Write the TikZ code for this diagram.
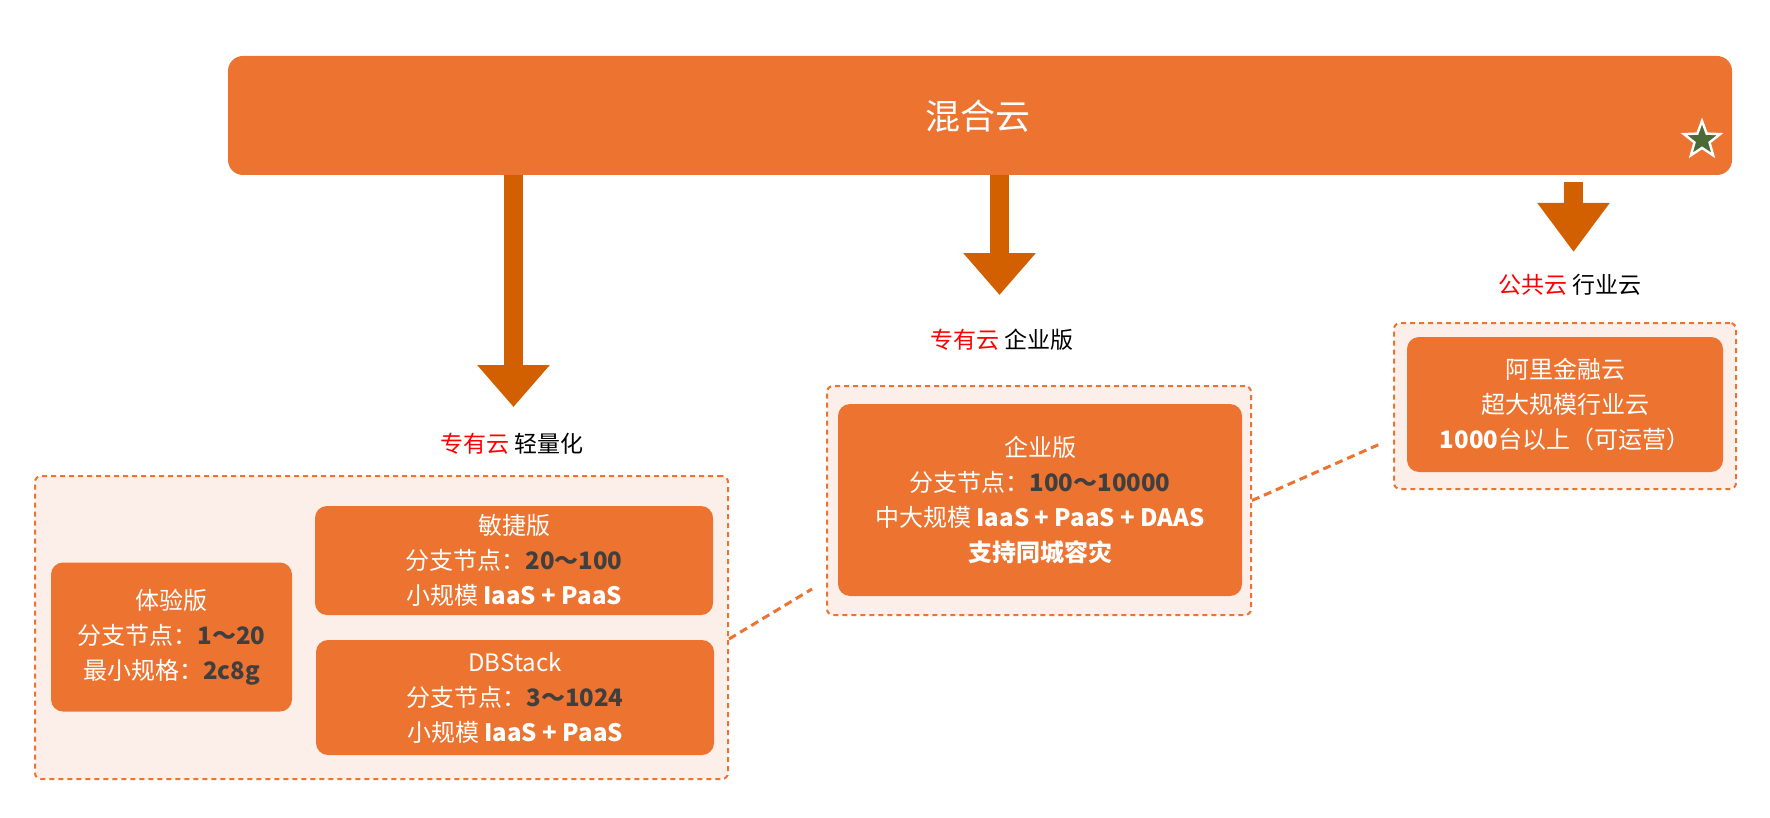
\documentclass[tikz,border=0pt]{standalone}
\usepackage{fontspec}
\setmainfont{Noto Sans CJK SC}
\usetikzlibrary{arrows.meta,shapes.geometric}
\definecolor{org}{HTML}{ED7330}
\definecolor{darr}{HTML}{D25F00}
\definecolor{pale}{HTML}{FCEFE9}
\definecolor{num}{HTML}{3F3F3F}
\definecolor{stargreen}{HTML}{4A6B35}
\newcommand{\nm}[1]{\textbf{\textcolor{num}{#1}}}
\begin{document}
\begin{tikzpicture}[x=0.5pt,y=-0.5pt,
  banner/.style={fill=org, rounded corners=7.5pt, text=white, inner sep=0pt,
    font=\fontsize{17.5}{20}\selectfont},
  box/.style={fill=org, rounded corners=6pt, text=white, inner sep=0pt, align=center,
    font=\fontsize{12}{17.5}\selectfont},
  container/.style={fill=pale, draw=org, line width=1pt, dash pattern=on 2.5pt off 2pt,
    rounded corners=3pt, inner sep=0pt},
  lbl/.style={font=\fontsize{11.5}{14}\selectfont, inner sep=0pt},
  bigarrow/.style={draw=darr, line width=9.5pt},
  conn/.style={draw=org, line width=1.5pt, dash pattern=on 4pt off 2.5pt}
]
\useasboundingbox (0,0) rectangle (1770,818);

% banner
\node[banner, minimum width=752pt, minimum height=59.5pt] (banner) at (980,115.5) {};
\node[text=white, font=\fontsize{17.5}{20}\selectfont, inner sep=0pt] (bt) at (978,116) {混合云};
\node[star, star points=5, star point ratio=2.4, fill=stargreen, draw=white, line width=1.2pt,
  minimum size=19pt, inner sep=0pt] (star) at (1702,140) {};

% arrows
\coordinate (a1e) at (513.5,407);
\coordinate (a2e) at (999.5,295);
\coordinate (a3s) at (1573.5,182);
\coordinate (a3e) at (1573.5,252);
\draw[bigarrow, -{Triangle[width=35pt,length=21pt]}] (banner.south -| a1e) -- (a1e);
\draw[bigarrow, -{Triangle[width=35pt,length=21pt]}] (banner.south -| a2e) -- (a2e);
\draw[bigarrow, -{Triangle[width=34.5pt,length=24.5pt]}] (a3s) -- (a3e);

% labels
\node[lbl] (l1) at (512,444) {\textcolor{red}{专有云} 轻量化};
\node[lbl] (l2) at (1002,340) {\textcolor{red}{专有云} 企业版};
\node[lbl] (l3) at (1570,285) {\textcolor{red}{公共云} 行业云};

% containers
\node[container, minimum width=346.5pt, minimum height=151.5pt] (lc) at (381.5,627.5) {};
\node[container, minimum width=212pt, minimum height=114.5pt] (mc) at (1039,500.5) {};
\node[container, minimum width=171pt, minimum height=83pt] (rc) at (1565,406) {};

% boxes
\node[box, minimum width=120.5pt, minimum height=74.5pt] (tiyan) at (171.5,637) {体验版\\分支节点：\nm{1～20}\\最小规格：\nm{2c8g}};
\node[box, minimum width=199pt, minimum height=54.5pt] (minjie) at (514,560.5) {敏捷版\\分支节点：\nm{20～100}\\小规模 \textbf{IaaS + PaaS}};
\node[box, minimum width=199pt, minimum height=57.5pt] (dbstack) at (515,697.5) {DBStack\\分支节点：\nm{3～1024}\\小规模 \textbf{IaaS + PaaS}};
\node[box, minimum width=202pt, minimum height=96pt] (qiye) at (1040,500) {企业版\\分支节点：\nm{100～10000}\\中大规模 \textbf{IaaS + PaaS + DAAS}\\\textbf{支持同城容灾}};
\node[box, minimum width=158pt, minimum height=67.5pt] (jinrong) at (1565,404.5) {阿里金融云\\超大规模行业云\\\textbf{1000}台以上（可运营）};

% dashed connectors
\coordinate (c1e) at (812,589);
\coordinate (c2e) at (1380,444);
\draw[conn] ([yshift=-5.75pt]lc.east) -- (c1e);
\draw[conn] (mc.east) -- (c2e);
\end{tikzpicture}
\end{document}
